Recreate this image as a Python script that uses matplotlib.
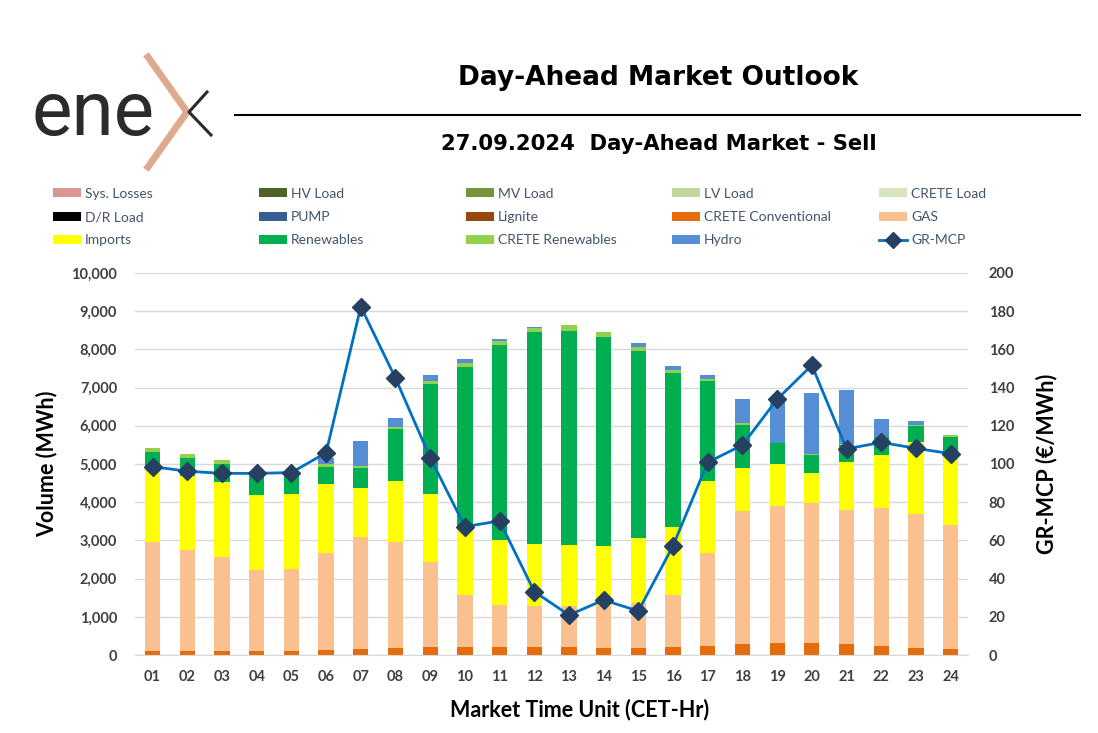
import matplotlib.pyplot as plt
import numpy as np
from matplotlib.lines import Line2D
from matplotlib.patches import Patch

# Data
hours = ['01', '02', '03', '04', '05', '06', '07', '08', '09', '10', '11', '12',
         '13', '14', '15', '16', '17', '18', '19', '20', '21', '22', '23', '24']

sys_losses = [0] * 24
hv_load = [0] * 24
mv_load = [0] * 24
lv_load = [0] * 24
crete_load = [0] * 24
dr_load = [0] * 24
pump = [0] * 24
lignite = [0] * 24
crete_conv = [105, 105, 105, 95, 95, 131, 166, 192, 218, 218, 218, 205,
              205, 190, 180, 218, 244, 279, 305, 305, 279, 244, 192, 148]
gas = [2862, 2652, 2469, 2130, 2148, 2531, 2914, 2775, 2208, 1353, 1091, 1086,
       1086, 1101, 1190, 1353, 2435, 3491, 3605, 3665, 3517, 3596, 3491, 3247]
imports = [1894, 1938, 1964, 1964, 1972, 1806, 1283, 1588, 1789, 1745, 1702, 1615,
           1589, 1572, 1684, 1789, 1876, 1117, 1090, 803, 1248, 1396, 1902, 1885]
renewables = [454, 462, 471, 497, 489, 462, 533, 1353, 2880, 4232, 5105, 5541,
              5602, 5471, 4914, 4032, 2627, 1134, 541, 463, 454, 463, 419, 427]
crete_ren = [95, 105, 96, 26, 26, 62, 52, 52, 78, 88, 104, 105,
             148, 131, 86, 69, 52, 44, 17, 26, 26, 17, 26, 61]
hydro = [0, 0, 0, 0, 0, 165, 655, 253, 157, 104, 53, 43,
         0, 0, 114, 105, 105, 637, 1162, 1589, 1414, 454, 96, 0]
gr_mcp = [98.6, 96.2, 95.1, 95.1, 95.5, 105.9, 182.4, 144.9, 103.3, 67.2, 70.2, 33.2,
          20.9, 28.8, 23.0, 57.2, 100.9, 109.9, 133.9, 151.7, 107.9, 111.3, 108.2, 105.4]

# series in stacking order (bottom -> top)
series = [
    ('Sys. Losses', sys_losses, '#D99694'),
    ('HV Load', hv_load, '#4F6228'),
    ('MV Load', mv_load, '#77933C'),
    ('LV Load', lv_load, '#C3D69B'),
    ('CRETE Load', crete_load, '#D7E4BD'),
    ('D/R Load', dr_load, '#000000'),
    ('PUMP', pump, '#376092'),
    ('Lignite', lignite, '#984807'),
    ('CRETE Conventional', crete_conv, '#E46C0A'),
    ('GAS', gas, '#FAC090'),
    ('Imports', imports, '#FFFF00'),
    ('Renewables', renewables, '#00B050'),
    ('CRETE Renewables', crete_ren, '#92D050'),
    ('Hydro', hydro, '#558ED5'),
]

plt.rcParams['font.family'] = ['Lato', 'DejaVu Sans']
tick_col = '#404040'

fig = plt.figure(figsize=(10.98, 7.33), dpi=100)
ax = fig.add_axes([0.1232, 0.1064, 0.7584, 0.5212])

x = np.arange(len(hours))
bottom = np.zeros(len(hours))
handles = []
for name, vals, col in series:
    v = np.array(vals, dtype=float)
    ax.bar(x, v, 0.44, bottom=bottom, color=col, linewidth=0, zorder=2)
    bottom += v
    handles.append(Patch(facecolor=col, label=name))

ax.set_xlim(-0.5, len(hours) - 0.5)
ax.set_ylim(0, 10000)
ax.set_yticks(np.arange(0, 10001, 1000))
ax.set_yticklabels(['{:,}'.format(v) for v in range(0, 10001, 1000)])
ax.set_xticks(x)
ax.set_xticklabels(hours)
ax.grid(axis='y', color='#D9D9D9', linewidth=1, zorder=0)
ax.set_axisbelow(True)
for s in ['top', 'left', 'right']:
    ax.spines[s].set_visible(False)
ax.spines['bottom'].set_color('#D9D9D9')
ax.tick_params(length=0, labelsize=10.5, labelcolor=tick_col)
ax.tick_params(axis='y', pad=13)
ax.tick_params(axis='x', pad=11)
for lbl in ax.get_xticklabels() + ax.get_yticklabels():
    lbl.set_fontweight('bold')

ax.set_ylabel('Volume (MWh)', fontsize=15.5, fontweight='bold')
ax.yaxis.set_label_coords(-0.093, 0.5)
ax.set_xlabel('Market Time Unit (CET-Hr)', fontsize=15.5, fontweight='bold')
ax.xaxis.set_label_coords(0.533, -0.113)

# price line on the right axis
ax2 = ax.twinx()
ax2.plot(x, gr_mcp, color='#0070C0', linewidth=2, marker='D', markersize=9.5,
         markerfacecolor='#254061', markeredgecolor='#254061', zorder=5)
ax2.set_ylim(0, 200)
ax2.set_yticks(np.arange(0, 201, 20))
for s in ['top', 'left', 'right', 'bottom']:
    ax2.spines[s].set_visible(False)
ax2.tick_params(length=0, labelsize=10.5, labelcolor=tick_col, pad=15)
for lbl in ax2.get_yticklabels():
    lbl.set_fontweight('bold')
ax2.set_ylabel('GR-MCP (€/MWh)', fontsize=15.5, fontweight='bold')
ax2.yaxis.set_label_coords(1.081, 0.5)

handles.append(Line2D([0], [0], color='#0070C0', linewidth=2, marker='D',
                      markersize=8, markerfacecolor='#254061',
                      markeredgecolor='#254061', label='GR-MCP'))

# legend: 5 columns, 3 rows, filled row by row
col_x = [0.0483, 0.2359, 0.4244, 0.612, 0.8005]
for c in range(5):
    hs = [handles[c], handles[c + 5], handles[c + 10]]
    leg = fig.legend(handles=hs, loc='upper left', bbox_to_anchor=(col_x[c], 0.744),
                     frameon=False, fontsize=10, borderpad=0, borderaxespad=0,
                     handlelength=2.0, handleheight=0.6, handletextpad=0.3,
                     labelspacing=0.82)
    for t in leg.get_texts():
        t.set_color('#44546A')

# titles
fig.text(0.599, 0.893, 'Day-Ahead Market Outlook', ha='center', va='center',
         fontsize=19, fontweight='bold', family='DejaVu Sans')
fig.add_artist(Line2D([235 / 1098, 1080 / 1098], [0.843, 0.843],
                      color='black', linewidth=1.5))
fig.text(0.600, 0.804, '27.09.2024  Day-Ahead Market - Sell', ha='center',
         va='center', fontsize=15.2, fontweight='bold', family='DejaVu Sans')

# logo
fig.text(0.029, 1 - 135 / 733, 'ene', fontsize=55, color='#2B2B2B',
         family='Roboto', fontweight='normal', va='baseline', ha='left')
fig.add_artist(Line2D([148 / 1098, 187 / 1098, 148 / 1098],
                      [1 - 57 / 733, 1 - 112 / 733, 1 - 167 / 733],
                      color='#DCAA8E', linewidth=5, solid_joinstyle='miter'))
fig.add_artist(Line2D([207 / 1098, 189 / 1098, 211 / 1098],
                      [1 - 92 / 733, 1 - 112 / 733, 1 - 135 / 733],
                      color='#2B2B2B', linewidth=2.2))

fig.savefig('out.png', dpi=100)
